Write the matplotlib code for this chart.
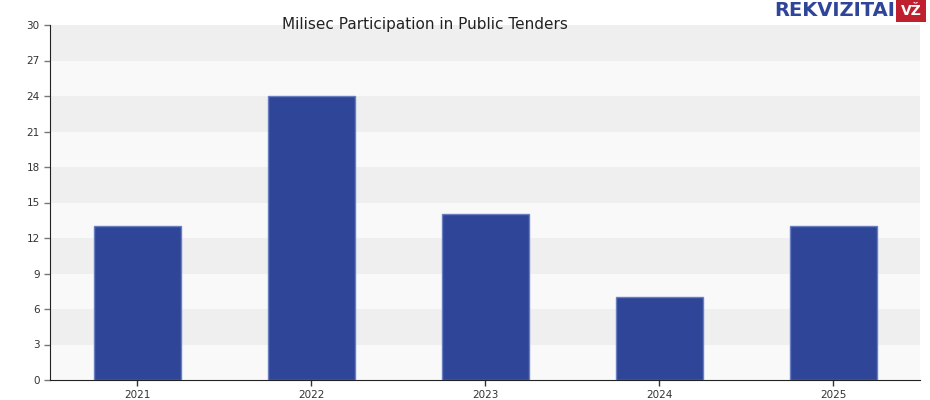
import matplotlib
matplotlib.use("Agg")
import matplotlib.pyplot as plt

years = ["2021", "2022", "2023", "2024", "2025"]
values = [13, 24, 14, 7, 13]
yticks = list(range(0, 31, 3))

fig = plt.figure(figsize=(9.3, 4.0), dpi=100)
fig.patch.set_facecolor("white")
ax = fig.add_axes([50/930, 20/400, 870/930, 355/400])
ax.set_facecolor("#f9f9f9")
for lo in range(3, 30, 6):
    ax.axhspan(lo, lo + 3, color="#efefef", zorder=0, lw=0)
x = list(range(len(years)))
ax.bar(x, values, width=0.5, color="#2e4598", edgecolor="#6a7fc0", linewidth=1.0, zorder=3)
ax.set_xlim(-0.5, 4.5)
ax.set_ylim(0, 30)
ax.set_yticks(yticks)
ax.set_xticks(x)
ax.set_xticklabels(years)
ax.tick_params(labelsize=7.5, colors="#333333", length=4, width=1)
ax.tick_params(axis="y", color="#777777")
for s in ["top", "right"]:
    ax.spines[s].set_visible(False)
ax.spines["left"].set_color("#222222")
ax.spines["bottom"].set_color("#222222")
fig.text(425/930, 1 - 24/400, "Milisec Participation in Public Tenders", ha="center", va="center",
         fontsize=11, color="#222222")
fig.text(895/930, 1 - 11/400, "REKVIZITAI", ha="right", va="center", fontsize=14,
         fontweight="bold", color="#2e4598")
fig.text(911/930, 1 - 11/400, "VŽ", ha="center", va="center", fontsize=10, fontweight="bold",
         color="white", bbox=dict(boxstyle="square,pad=0.3", fc="#c0202e", ec="none"))
fig.savefig("out.png", dpi=100)
